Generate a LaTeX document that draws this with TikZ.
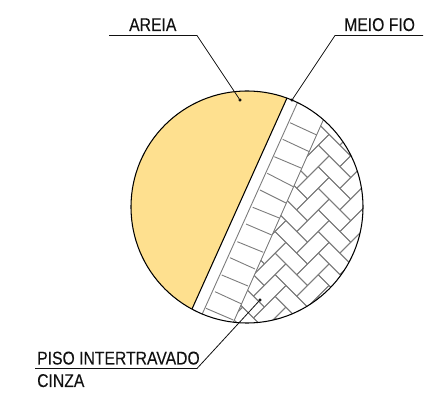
\documentclass[tikz,border=0pt]{standalone}
\usepackage{fontspec}
\setmainfont[FakeStretch=0.85,FakeBold=0.12]{Liberation Sans}
\definecolor{sand}{HTML}{FEE08F}
\definecolor{ink}{HTML}{111111}
\definecolor{hatch}{HTML}{7C7C7C}
\tikzset{
  outline/.style={draw=black,line width=1.05pt},
  brick/.style={draw=hatch,line width=0.9pt},
  leader/.style={draw=ink,line width=0.8pt},
  lbl/.style={anchor=base west,inner sep=0pt,text=ink,font=\fontsize{18.5}{20}\selectfont},
  tick/.style={circle,draw=black,fill=ink,inner sep=0pt,minimum size=2.6pt,line width=0.4pt}
}
\begin{document}
\begin{tikzpicture}[x=1pt,y=-1pt]
\useasboundingbox (0,0) rectangle (440,398);
% sand
\begin{scope}
\clip (247,207) circle[radius=116pt];
\fill[sand] (287,98) -- (192,309) -- (100,340) -- (100,70) -- (300,70) -- cycle;
\end{scope}
% soldier course
\begin{scope}
\clip (247,207) circle[radius=116pt];
\foreach \ax/\ay/\bx/\by in {290/122.7/316.7/135,282.7/139.3/309.3/151.7,274.3/156.7/301.7/168.3,267.3/173.3/293.3/186.7,260/190/286/203,252.7/207.3/280/218.3,246/224/271.7/235,237.3/241.7/263.3/252.3,230/257.7/255/269,221.7/275/248/286,215/291.7/241.7/304,206/308.3/233.3/320}
  \draw[brick] (\ax,\ay) -- (\bx,\by);
\draw[brick] (297.5,102.5) -- (202,314.5);
\draw[brick] (323.5,119.5) -- (233.5,322);
\end{scope}
% herringbone
\begin{scope}
\clip (247,207) circle[radius=116pt];
\clip (323.5,119.5) -- (233.5,322) -- (400,340) -- (400,90) -- cycle;
\begin{scope}[shift={(318.3,188.3)},x={(10.8pt,10.8pt)},y={(10.8pt,-10.8pt)}]
\foreach \n in {-14,...,14}{
  \foreach \m in {-7,...,7}{
    \pgfmathtruncatemacro{\p}{-\n+2*\m}
    \pgfmathtruncatemacro{\q}{\n+2*\m}
    \draw[brick,line join=round] (\p,\q) -- ++(1,0) -- ++(0,2) -- ++(-1,0) -- cycle;
    \draw[brick,line join=round] (\p+1,\q+1) -- ++(2,0) -- ++(0,1) -- ++(-2,0) -- cycle;
  }
}
\end{scope}
\end{scope}
% outlines
\draw[outline] (287,98) -- (192,309);
\draw[outline] (247,207) circle[radius=116pt];
% labels
\node[lbl] (areia) at (129,31) {AREIA};
\node[lbl] (meio) at (344,31) {MEIO FIO};
\node[lbl] (piso) at (37,364.5) {PISO INTERTRAVADO};
\node[lbl] (cinza) at (37,387) {CINZA};
% leaders
\node[tick] (d1) at (240,100) {};
\node[tick] (d2) at (292,100) {};
\node[tick] (d3) at (260,300) {};
\coordinate (a0) at (109,35.5); \coordinate (a1) at (197,35.5);
\coordinate (m0) at (423,35.5); \coordinate (m1) at (335,35.5);
\coordinate (p0) at (35,368.5); \coordinate (p1) at (197,368.5);
\draw[leader] (a0) -- (a1) -- (d1);
\draw[leader] (m0) -- (m1) -- (d2);
\draw[leader] (p0) -- (p1) -- (d3);
\end{tikzpicture}
\end{document}
